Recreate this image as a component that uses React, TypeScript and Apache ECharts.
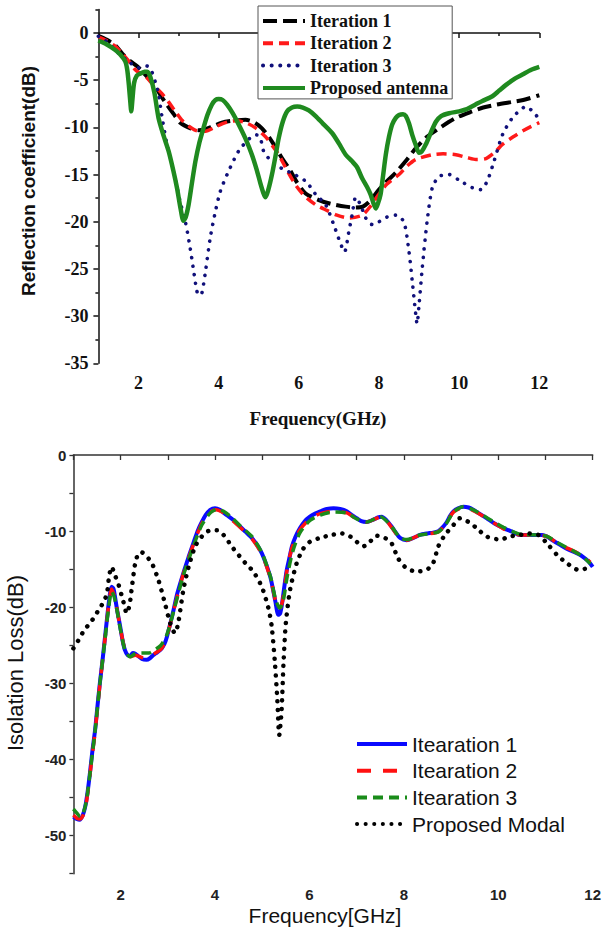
import React, { useEffect, useRef } from "react";
import * as echarts from "echarts";

// ---------- Top chart: Reflection coefficient (dB) vs frequency (GHz) ----------
const topLegendNames = ["Iteration 1", "Iteration 2", "Iteration 3", "Proposed antenna"];

const reflIter1: number[][] = [
  [1, -0.3], [1.2, -0.7], [1.42, -1.3], [1.6, -2.2], [1.8, -3.0], [1.96, -3.5], [2.1, -4.1], [2.21, -4.6],
  [2.4, -5.5], [2.55, -6.6], [2.71, -7.6], [2.88, -8.6], [3.04, -9.5], [3.3, -10.1], [3.5, -10.3], [3.67, -10.2],
  [3.85, -9.9], [4.08, -9.5], [4.35, -9.3], [4.67, -9.2], [4.9, -9.5], [5.08, -10.1], [5.25, -11.0], [5.46, -12.4],
  [5.6, -13.4], [5.75, -14.3], [5.95, -15.8], [6.17, -17.0], [6.5, -17.7], [6.8, -18.1], [7.17, -18.4], [7.4, -18.5],
  [7.6, -18.4], [7.8, -17.7], [7.96, -16.8], [8.2, -15.7], [8.42, -14.8], [8.7, -13.4], [8.92, -12.2], [9.2, -11.0],
  [9.5, -10.1], [9.92, -9.0], [10.33, -8.3], [10.6, -7.9], [10.92, -7.6], [11.33, -7.3], [11.6, -7.1], [12, -6.6],
];

const reflIter2: number[][] = [
  [1, -0.4], [1.2, -0.8], [1.42, -1.4], [1.6, -2.2], [1.8, -3.2], [1.92, -3.9], [2.05, -4.3], [2.17, -4.6],
  [2.35, -5.4], [2.58, -6.4], [2.75, -7.3], [2.92, -8.3], [3.1, -9.3], [3.33, -10.1], [3.5, -10.4], [3.67, -10.4],
  [3.9, -10.0], [4.1, -9.6], [4.25, -9.4], [4.45, -9.3], [4.67, -9.5], [4.9, -10.0], [5.17, -11.0], [5.35, -12.0],
  [5.5, -12.9], [5.7, -14.5], [5.92, -16.1], [6.15, -17.3], [6.42, -18.2], [6.7, -18.8], [6.95, -19.3], [7.25, -19.6],
  [7.58, -19.3], [7.8, -18.3], [7.96, -17.3], [8.2, -16.0], [8.5, -15.0], [8.7, -14.1], [8.92, -13.4], [9.33, -12.9],
  [9.6, -12.8], [9.92, -12.9], [10.2, -13.2], [10.42, -13.4], [10.67, -13.3], [10.9, -12.6], [11.08, -11.8],
  [11.35, -11.0], [11.58, -10.4], [11.8, -9.9], [12, -9.5],
];

const reflIter3: number[][] = [
  [1, -0.35], [1.2, -0.9], [1.4, -1.7], [1.54, -2.3], [1.75, -3.0], [2.0, -3.7], [2.12, -3.6], [2.21, -3.5],
  [2.33, -4.1], [2.42, -5.2], [2.5, -6.5], [2.58, -8.7], [2.71, -11.8], [2.88, -14.7], [3.04, -17.9], [3.17, -20.0],
  [3.29, -22.8], [3.38, -25.3], [3.46, -27.4], [3.52, -27.8], [3.58, -27.6], [3.67, -25.3], [3.79, -21.7],
  [3.92, -18.9], [4.04, -16.8], [4.21, -15.0], [4.5, -12.5], [4.79, -11.1], [4.95, -10.8], [5.05, -11.3],
  [5.12, -12.5], [5.25, -13.3], [5.42, -14.0], [5.75, -14.7], [6.17, -15.7], [6.42, -17.1], [6.67, -18.2],
  [6.87, -20.3], [7.04, -22.3], [7.14, -23.2], [7.25, -21.0], [7.33, -19.3], [7.42, -17.4], [7.54, -18.2],
  [7.67, -19.6], [7.83, -20.3], [8.0, -20.0], [8.2, -19.5], [8.42, -19.3], [8.62, -20.0], [8.75, -23.2],
  [8.83, -26.3], [8.92, -29.9], [8.95, -30.8], [9.0, -28.8], [9.08, -24.9], [9.2, -20.0], [9.33, -16.4],
  [9.5, -15.2], [9.75, -15.0], [10.0, -15.6], [10.33, -16.4], [10.54, -16.6], [10.7, -15.7], [10.87, -13.6],
  [11.08, -10.8], [11.33, -9.0], [11.67, -7.8], [11.88, -8.5], [12, -9.2],
];

const reflProposed: number[][] = [
  [1, -0.8], [1.2, -1.2], [1.42, -1.8], [1.55, -2.3], [1.67, -3.0], [1.72, -3.9], [1.76, -5.5], [1.8, -7.5],
  [1.82, -8.3], [1.85, -7.0], [1.89, -5.3], [1.96, -4.5], [2.05, -4.3], [2.15, -4.1], [2.22, -4.1], [2.3, -4.7],
  [2.4, -6.4], [2.5, -9.0], [2.62, -10.8], [2.75, -12.5], [2.87, -14.6], [2.96, -16.4], [3.05, -18.6],
  [3.12, -19.9], [3.18, -19.5], [3.25, -18.2], [3.33, -16.0], [3.42, -13.6], [3.52, -11.6], [3.62, -10.1],
  [3.72, -8.7], [3.83, -7.6], [3.92, -7.1], [4.0, -7.0], [4.1, -7.1], [4.21, -7.6], [4.35, -8.5], [4.5, -9.7],
  [4.67, -11.2], [4.83, -12.9], [4.95, -14.5], [5.04, -15.9], [5.12, -17.0], [5.17, -17.4], [5.24, -16.6],
  [5.33, -15.0], [5.42, -13.0], [5.5, -11.1], [5.6, -9.4], [5.71, -8.3], [5.83, -7.9], [5.96, -7.8], [6.1, -7.9],
  [6.25, -8.2], [6.42, -8.8], [6.6, -9.6], [6.83, -10.6], [7.0, -11.7], [7.17, -12.9], [7.33, -13.6],
  [7.45, -14.2], [7.58, -15.4], [7.7, -16.3], [7.79, -17.1], [7.86, -18.0], [7.92, -18.6], [7.98, -18.0],
  [8.04, -17.1], [8.1, -15.2], [8.17, -12.9], [8.25, -11.0], [8.33, -9.7], [8.42, -9.0], [8.5, -8.7], [8.6, -8.6],
  [8.67, -8.8], [8.75, -9.6], [8.83, -10.8], [8.92, -11.9], [9.0, -12.7], [9.06, -12.6], [9.17, -11.8],
  [9.3, -10.5], [9.42, -9.4], [9.55, -8.8], [9.75, -8.5], [10.0, -8.3], [10.17, -8.1], [10.4, -7.6],
  [10.58, -7.2], [10.83, -6.7], [11.0, -6.1], [11.17, -5.5], [11.4, -4.8], [11.58, -4.4], [11.8, -3.9], [12, -3.6],
];

const topXLabels = [2, 4, 6, 8, 10, 12];
const topXMinorTicks = [1, 3, 5, 7, 9, 11];
const topYLabels = [-35, -30, -25, -20, -15, -10, -5, 0];
const topYMinorTicks = [-32.5, -27.5, -22.5, -17.5, -12.5, -7.5, -2.5, 2.5];

// ---------- Bottom chart: Isolation loss (dB) vs frequency (GHz) ----------
const bottomLegendNames = ["Itearation 1", "Itearation 2", "Itearation 3", "Proposed Modal"];

const isoIter1: number[][] = [
  [1, -47.5], [1.07, -47.8], [1.14, -47.9], [1.2, -47.3], [1.25, -46.2], [1.3, -44.3], [1.35, -41.8],
  [1.4, -39.0], [1.46, -36.1], [1.51, -33.0], [1.56, -30.0], [1.62, -26.8], [1.67, -23.9], [1.71, -21.6],
  [1.74, -19.9], [1.78, -18.0], [1.81, -17.3], [1.85, -17.6], [1.88, -18.6], [1.93, -20.5], [1.99, -22.5],
  [2.04, -24.3], [2.09, -25.6], [2.15, -26.3], [2.2, -26.4], [2.26, -26.0], [2.31, -26.1], [2.37, -26.4],
  [2.45, -26.8], [2.55, -26.9], [2.62, -26.7], [2.69, -26.3], [2.78, -25.9], [2.87, -25.4], [2.93, -24.8],
  [2.98, -23.9], [3.05, -22.2], [3.12, -20.4], [3.2, -18.2], [3.33, -15.5], [3.44, -13.4], [3.54, -11.6],
  [3.63, -10.0], [3.72, -8.8], [3.8, -7.9], [3.9, -7.2], [4.0, -7.0], [4.1, -7.2], [4.25, -7.9], [4.4, -8.6],
  [4.53, -9.4], [4.65, -10.1], [4.78, -10.9], [4.9, -11.9], [4.99, -12.9], [5.08, -14.3], [5.17, -16.0],
  [5.23, -17.7], [5.28, -19.3], [5.34, -21.0], [5.38, -20.8], [5.42, -19.5], [5.47, -17.2], [5.52, -15.1],
  [5.58, -13.4], [5.63, -12.0], [5.7, -10.8], [5.8, -9.6], [5.9, -8.7], [6.01, -8.1], [6.12, -7.7], [6.23, -7.4],
  [6.37, -7.1], [6.51, -7.0], [6.65, -7.1], [6.79, -7.4], [6.9, -7.9], [7.0, -8.3], [7.1, -8.7], [7.21, -8.8],
  [7.35, -8.5], [7.45, -8.2], [7.53, -8.1], [7.62, -8.5], [7.74, -9.4], [7.83, -10.2], [7.92, -10.9],
  [8.06, -11.2], [8.2, -10.9], [8.34, -10.5], [8.5, -10.3], [8.62, -10.2], [8.73, -10.0], [8.82, -9.5],
  [8.91, -8.8], [8.98, -8.0], [9.05, -7.4], [9.15, -7.0], [9.26, -6.8], [9.37, -6.9], [9.47, -7.2], [9.6, -7.7],
  [9.75, -8.3], [9.92, -9.0], [10.11, -9.6], [10.3, -10.1], [10.46, -10.5], [10.65, -10.5], [10.81, -10.5],
  [10.93, -10.5], [11.03, -10.7], [11.15, -11.2], [11.31, -11.8], [11.45, -12.3], [11.59, -12.7], [11.7, -13.0],
  [11.8, -13.4], [11.9, -13.9], [12, -14.7],
];

const isoIter2: number[][] = [
  [1, -47.3], [1.07, -47.7], [1.14, -47.8], [1.2, -47.4], [1.25, -46.5], [1.3, -44.6], [1.35, -42.0],
  [1.46, -36.3], [1.56, -30.2], [1.67, -24.1], [1.74, -20.1], [1.81, -17.6], [1.88, -18.8], [1.99, -22.6],
  [2.09, -25.5], [2.2, -26.5], [2.31, -26.3], [2.45, -26.6], [2.55, -26.7], [2.69, -26.2], [2.87, -25.4],
  [2.98, -23.9], [3.12, -20.5], [3.33, -15.6], [3.54, -11.8], [3.72, -9.0], [3.9, -7.5], [4.02, -7.2],
  [4.15, -7.5], [4.3, -8.2], [4.53, -9.5], [4.78, -11.0], [4.99, -13.0], [5.17, -16.1], [5.28, -19.1],
  [5.36, -20.3], [5.43, -19.2], [5.52, -15.3], [5.63, -12.2], [5.8, -9.8], [6.01, -8.4], [6.23, -7.7],
  [6.5, -7.4], [6.79, -7.6], [7.0, -8.4], [7.21, -8.8], [7.53, -8.1], [7.74, -9.5], [7.92, -11.0], [8.06, -11.2],
  [8.34, -10.5], [8.73, -10.1], [8.91, -8.8], [9.05, -7.5], [9.26, -6.9], [9.47, -7.3], [9.75, -8.3],
  [10.11, -9.7], [10.46, -10.5], [10.81, -10.5], [11.03, -10.7], [11.31, -11.8], [11.59, -12.6], [11.8, -13.3],
  [11.95, -14.1],
];

const isoIter3: number[][] = [
  [1, -46.5], [1.07, -47.0], [1.14, -47.5], [1.2, -47.1], [1.25, -46.2], [1.3, -44.4], [1.35, -41.9],
  [1.46, -36.2], [1.56, -30.1], [1.67, -24.2], [1.74, -20.4], [1.81, -17.9], [1.88, -19.0], [1.99, -22.7],
  [2.09, -25.6], [2.2, -26.5], [2.31, -26.1], [2.45, -26.0], [2.6, -26.0], [2.72, -25.6], [2.85, -25.0],
  [2.98, -23.6], [3.12, -20.6], [3.33, -15.8], [3.54, -12.0], [3.72, -9.2], [3.9, -7.6], [4.05, -7.1],
  [4.18, -7.4], [4.35, -8.2], [4.53, -9.3], [4.78, -10.7], [4.99, -12.8], [5.17, -15.9], [5.28, -18.9],
  [5.37, -20.1], [5.44, -19.3], [5.53, -15.9], [5.65, -12.6], [5.8, -10.2], [6.01, -8.6], [6.23, -7.9],
  [6.5, -7.5], [6.79, -7.6], [7.0, -8.4], [7.21, -8.8], [7.5, -8.1], [7.74, -9.4], [7.92, -10.9], [8.06, -11.1],
  [8.34, -10.5], [8.73, -10.1], [8.91, -8.9], [9.05, -7.5], [9.26, -6.8], [9.47, -7.2], [9.75, -8.2],
  [10.11, -9.5], [10.46, -10.4], [10.81, -10.5], [11.03, -10.7], [11.31, -11.7], [11.59, -12.6], [11.8, -13.4],
  [11.95, -14.3],
];

const isoProposed: number[][] = [
  [1, -25.4], [1.11, -24.3], [1.21, -23.2], [1.32, -22.3], [1.42, -21.5], [1.53, -20.4], [1.64, -19.3],
  [1.71, -18.2], [1.76, -15.8], [1.81, -14.7], [1.88, -15.8], [1.95, -16.9], [2.06, -19.3], [2.13, -20.8],
  [2.19, -19.7], [2.24, -17.3], [2.31, -14.2], [2.38, -12.9], [2.45, -12.8], [2.52, -13.1], [2.66, -14.2],
  [2.8, -16.4], [2.94, -19.5], [3.05, -22.1], [3.15, -23.4], [3.22, -22.1], [3.33, -17.7], [3.44, -14.7],
  [3.58, -12.0], [3.72, -10.7], [3.9, -9.9], [4.04, -9.9], [4.18, -10.5], [4.39, -12.3], [4.67, -14.4],
  [4.81, -15.3], [4.99, -17.3], [5.13, -20.1], [5.2, -22.5], [5.27, -27.4], [5.32, -32.2], [5.36, -36.8],
  [5.41, -33.5], [5.45, -27.4], [5.5, -22.1], [5.59, -17.7], [5.73, -14.2], [5.87, -12.3], [6.01, -11.4],
  [6.22, -10.9], [6.47, -10.5], [6.68, -10.3], [6.86, -10.7], [7.0, -11.4], [7.14, -12.0], [7.28, -11.4],
  [7.42, -10.6], [7.6, -10.9], [7.74, -11.6], [7.88, -13.6], [8.06, -14.9], [8.27, -15.3], [8.48, -15.1],
  [8.62, -14.2], [8.73, -12.0], [8.87, -10.5], [9.05, -9.2], [9.19, -8.3], [9.37, -8.8], [9.54, -9.6],
  [9.75, -10.7], [10.04, -11.1], [10.25, -10.7], [10.46, -10.5], [10.64, -10.3], [10.85, -10.5],
  [11.06, -11.8], [11.24, -13.1], [11.45, -14.2], [11.7, -15.1], [11.87, -14.9],
];

const bottomXLabels = [2, 4, 6, 8, 10, 12];
const bottomXTicks = [1, 2, 3, 4, 5, 6, 7, 8, 9, 10, 11, 12];
const bottomYLabels = [-50, -40, -30, -20, -10, 0];
const bottomYTicks = [-55, -50, -45, -40, -35, -30, -25, -20, -15, -10, -5, 0];

const SERIF = "'Times New Roman', 'Liberation Serif', serif";
const SANS = "Arial, 'Liberation Sans', sans-serif";

function buildOption(): any {
  const topLabelStyle = { fontFamily: SERIF, fontWeight: "bold", fontSize: 18, color: "#111" };
  const botLabelStyle = { fontFamily: SANS, fontWeight: "bold", fontSize: 15, color: "#222" };

  const topSeriesBase = { type: "line", xAxisIndex: 0, yAxisIndex: 0, showSymbol: false, symbol: "none", smooth: 0.25 };
  const botSeriesBase = { type: "line", xAxisIndex: 2, yAxisIndex: 2, showSymbol: false, symbol: "none", smooth: 0.25 };
  const hiddenSymbol = { color: "transparent", borderColor: "transparent", borderWidth: 0, opacity: 0 };

  return {
    animation: false,
    backgroundColor: "#ffffff",
    grid: [
      { left: 98.4, right: 70.7, top: 9.4, bottom: 566.7 },
      { left: 73.4, right: 17.3, top: 455, bottom: 56.3 },
    ],
    xAxis: [
      {
        gridIndex: 0, type: "value", min: 1, max: 12, position: "bottom",
        axisLine: { lineStyle: { color: "#111", width: 1.5 } },
        axisTick: { customValues: topXLabels, length: 5, lineStyle: { color: "#111", width: 1.5 } },
        axisLabel: { customValues: topXLabels, margin: 11, ...topLabelStyle },
        splitLine: { show: false },
      },
      {
        gridIndex: 0, type: "value", min: 1, max: 12, position: "bottom",
        axisLine: { show: false },
        axisTick: { customValues: topXMinorTicks, length: 3, lineStyle: { color: "#111", width: 1.5 } },
        axisLabel: { show: false },
        splitLine: { show: false },
      },
      {
        gridIndex: 1, type: "value", min: 1, max: 12, position: "bottom",
        axisLine: { lineStyle: { color: "#333", width: 1.5 } },
        axisTick: { customValues: bottomXTicks, length: 5, lineStyle: { color: "#333", width: 1.3 } },
        axisLabel: { customValues: bottomXLabels, margin: 13, ...botLabelStyle },
        splitLine: { show: false },
      },
    ],
    yAxis: [
      {
        gridIndex: 0, type: "value", min: -35, max: 2.5, position: "left",
        axisLine: { show: true, lineStyle: { color: "#111", width: 1.5 } },
        axisTick: { show: true, customValues: topYLabels, length: 5, lineStyle: { color: "#111", width: 1.5 } },
        axisLabel: { customValues: topYLabels, margin: 10, ...topLabelStyle },
        splitLine: { show: false },
      },
      {
        gridIndex: 0, type: "value", min: -35, max: 2.5, position: "left",
        axisLine: { show: false },
        axisTick: { show: true, customValues: topYMinorTicks, length: 3, lineStyle: { color: "#111", width: 1.5 } },
        axisLabel: { show: false },
        splitLine: { show: false },
      },
      {
        gridIndex: 1, type: "value", min: -55, max: 0, position: "left",
        axisLine: { show: true, lineStyle: { color: "#333", width: 1.5 } },
        axisTick: { show: true, customValues: bottomYTicks, length: 4, lineStyle: { color: "#333", width: 1.3 } },
        axisLabel: { customValues: bottomYLabels, margin: 7, ...botLabelStyle },
        splitLine: { show: false },
      },
    ],
    legend: [
      {
        data: topLegendNames,
        orient: "vertical",
        left: 258,
        top: 6,
        padding: [6, 4, 2, 3],
        itemGap: 4.3,
        itemWidth: 42,
        itemHeight: 14,
        itemStyle: hiddenSymbol,
        lineStyle: { width: 4 },
        backgroundColor: "#ffffff",
        borderColor: "#555",
        borderWidth: 1,
        borderRadius: 0,
        textStyle: { fontFamily: SERIF, fontWeight: "bold", fontSize: 18, lineHeight: 18, color: "#111" },
      },
      {
        data: bottomLegendNames,
        orient: "vertical",
        left: 355,
        top: 733.5,
        padding: 0,
        itemGap: 5.7,
        itemWidth: 50,
        itemHeight: 14,
        itemStyle: hiddenSymbol,
        lineStyle: { width: 4 },
        textStyle: { fontFamily: SANS, fontSize: 21, lineHeight: 21, color: "#111" },
      },
    ],
    graphic: [
      {
        type: "text", x: 318, y: 418,
        style: { text: "Frequency(GHz)", font: `bold 19px ${SERIF}`, fill: "#111", align: "center", verticalAlign: "middle" },
      },
      {
        type: "text", x: 28, y: 181, rotation: Math.PI / 2,
        style: { text: "Reflection coefficient(dB)", font: `bold 19px ${SANS}`, fill: "#111", align: "center", verticalAlign: "middle" },
      },
      {
        type: "text", x: 325, y: 915,
        style: { text: "Frequency[GHz]", font: `21px ${SANS}`, fill: "#111", align: "center", verticalAlign: "middle" },
      },
      {
        type: "text", x: 15, y: 663, rotation: Math.PI / 2,
        style: { text: "Isolation Loss(dB)", font: `22px ${SANS}`, fill: "#111", align: "center", verticalAlign: "middle" },
      },
    ],
    series: [
      { ...topSeriesBase, name: "Iteration 1", data: reflIter1, color: "#000000",
        lineStyle: { color: "#000000", width: 4, type: [14, 6] } },
      { ...topSeriesBase, name: "Iteration 2", data: reflIter2, color: "#ff1a1a",
        lineStyle: { color: "#ff1a1a", width: 3.5, type: [10, 6] } },
      { ...topSeriesBase, name: "Iteration 3", data: reflIter3, color: "#10107a",
        lineStyle: { color: "#10107a", width: 3.6, type: [0.1, 8.5], cap: "round" } },
      { ...topSeriesBase, name: "Proposed antenna", data: reflProposed, color: "#1f8a1f",
        lineStyle: { color: "#1f8a1f", width: 4.5, type: "solid" } },

      { ...botSeriesBase, name: "Itearation 1", data: isoIter1, color: "#0a0aff",
        lineStyle: { color: "#0a0aff", width: 4, type: "solid" } },
      { ...botSeriesBase, name: "Itearation 2", data: isoIter2, color: "#ff1010",
        lineStyle: { color: "#ff1010", width: 3.5, type: [14, 12] } },
      { ...botSeriesBase, name: "Itearation 3", data: isoIter3, color: "#1a8c1a",
        lineStyle: { color: "#1a8c1a", width: 3.5, type: [10, 6] } },
      { ...botSeriesBase, name: "Proposed Modal", data: isoProposed, color: "#000000",
        lineStyle: { color: "#000000", width: 4.5, type: [0.1, 8.5], cap: "round" } },
    ],
  };
}

export default function App() {
  const ref = useRef<HTMLDivElement>(null);
  useEffect(() => {
    document.body.style.margin = "0";
    if (!ref.current) return;
    const chart = echarts.init(ref.current, null, { renderer: "svg" });
    chart.setOption(buildOption());
    return () => {
      chart.dispose();
    };
  }, []);
  return (
    <div
      ref={ref}
      style={{ position: "absolute", left: 0, top: 0, width: 610, height: 930, background: "#fff" }}
    />
  );
}
